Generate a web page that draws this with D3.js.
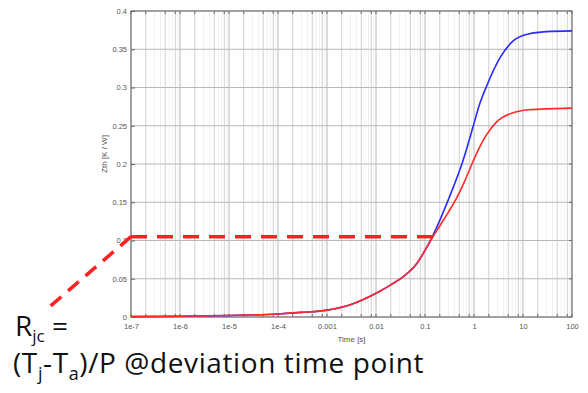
<!DOCTYPE html>
<html>
<head>
<meta charset="utf-8">
<script src="https://cdn.jsdelivr.net/npm/d3@7.9.0/dist/d3.min.js"></script>
<style>
  html, body { margin: 0; padding: 0; background: #fff; }
  svg { display: block; }
  .tick-label { font-family: "Liberation Sans", Arial, sans-serif; font-size: 7.5px; fill: #555; }
  .note { font-family: "Open Sans", "Noto Sans", sans-serif; fill: #111; }
</style>
</head>
<body>
<svg id="chart" width="588" height="393"></svg>
<script>
// ---------------------------------------------------------
// Data
// ---------------------------------------------------------
const yTicks = [0, 0.05, 0.1, 0.15, 0.2, 0.25, 0.3, 0.35, 0.4];
const xTicks = [1e-7, 1e-6, 1e-5, 1e-4, 1e-3, 1e-2, 1e-1, 1, 10, 100];
const xTickLabels = ["1e-7", "1e-6", "1e-5", "1e-4", "0.001", "0.01", "0.1", "1", "10", "100"];

// red curve: Zth [K/W] vs time [s]
const redTime = [1e-7, 1e-6, 1e-5, 1e-4, 3e-4, 1e-3, 3e-3, 0.01, 0.02, 0.04, 0.07, 0.1, 0.146, 0.2, 0.3, 0.43, 0.6, 0.95, 1.4, 1.84, 2.9, 6.3, 13, 30, 100];
const redZth  = [0.0005, 0.001, 0.002, 0.004, 0.006, 0.009, 0.016, 0.031, 0.042, 0.055, 0.071, 0.087, 0.105, 0.119, 0.137, 0.154, 0.173, 0.203, 0.226, 0.239, 0.255, 0.267, 0.271, 0.272, 0.273];

// blue curve: same as red until it deviates around 0.1 s
const blueTime = [1e-7, 1e-6, 1e-5, 1e-4, 3e-4, 1e-3, 3e-3, 0.01, 0.02, 0.04, 0.07, 0.1, 0.146, 0.32, 0.6, 0.95, 1.3, 1.84, 3.4, 6.3, 13, 30, 100];
const blueZth  = [0.0005, 0.001, 0.002, 0.004, 0.006, 0.009, 0.016, 0.031, 0.042, 0.055, 0.071, 0.087, 0.107, 0.158, 0.205, 0.248, 0.278, 0.303, 0.339, 0.361, 0.370, 0.373, 0.374];

// deviation point
const rjcTime = 0.146;
const rjcValue = 0.105;

// ---------------------------------------------------------
// Chart
// ---------------------------------------------------------
const svg = d3.select("#chart");
const margin = { top: 11, right: 16, bottom: 76, left: 131 };
const width = 588, height = 393;

const x = d3.scaleLog().domain([1e-7, 100]).range([margin.left, width - margin.right]);
const y = d3.scaleLinear().domain([0, 0.4]).range([height - margin.bottom, margin.top]);

// minor values for grid
const minors = [];
for (let e = -7; e < 2; e++) {
  for (let m = 2; m <= 9; m++) minors.push({ v: m * Math.pow(10, e), m });
}
const strong = d => [2, 5, 8].includes(d.m);

const grid = svg.append("g");
grid.selectAll("line.minor")
  .data(minors)
  .join("line")
  .attr("x1", d => x(d.v)).attr("x2", d => x(d.v))
  .attr("y1", y(0)).attr("y2", y(0.4))
  .attr("stroke", d => strong(d) ? "#d0d0d0" : "#f0f0f0")
  .attr("stroke-width", 1);

grid.selectAll("line.major")
  .data(xTicks)
  .join("line")
  .attr("x1", d => x(d)).attr("x2", d => x(d))
  .attr("y1", y(0)).attr("y2", y(0.4))
  .attr("stroke", "#b8b8b8");

grid.selectAll("line.h")
  .data(yTicks)
  .join("line")
  .attr("x1", x(1e-7)).attr("x2", x(100))
  .attr("y1", d => y(d)).attr("y2", d => y(d))
  .attr("stroke", "#b8b8b8");

// small tick marks along top and bottom edges
const edgeTicks = minors.filter(strong).map(d => d.v).concat(xTicks);
svg.append("g").selectAll("line")
  .data(edgeTicks)
  .join("line")
  .attr("x1", d => x(d)).attr("x2", d => x(d))
  .attr("y1", y(0)).attr("y2", y(0) - 3)
  .attr("stroke", "#666");
svg.append("g").selectAll("line")
  .data(edgeTicks)
  .join("line")
  .attr("x1", d => x(d)).attr("x2", d => x(d))
  .attr("y1", y(0.4)).attr("y2", y(0.4) + 3)
  .attr("stroke", "#666");
// right side ticks
svg.append("g").selectAll("line")
  .data(yTicks)
  .join("line")
  .attr("x1", x(100)).attr("x2", x(100) - 3)
  .attr("y1", d => y(d)).attr("y2", d => y(d))
  .attr("stroke", "#666");

// frame
svg.append("rect")
  .attr("x", x(1e-7)).attr("y", y(0.4))
  .attr("width", x(100) - x(1e-7))
  .attr("height", y(0) - y(0.4))
  .attr("fill", "none")
  .attr("stroke", "#7a7a7a")
  .attr("stroke-width", 1.2);

// axes
const yAxis = svg.append("g")
  .attr("transform", `translate(${margin.left},0)`)
  .call(d3.axisLeft(y).tickValues(yTicks).tickSize(4).tickFormat(d => d3.format("~g")(d)));
yAxis.select(".domain").remove();
yAxis.selectAll(".tick line").attr("stroke", "#666").attr("x2", 4).attr("x1", 0);
yAxis.selectAll(".tick text").attr("class", "tick-label").attr("x", -4);

const xAxis = svg.append("g")
  .attr("transform", `translate(0,${height - margin.bottom})`)
  .call(d3.axisBottom(x).tickValues(xTicks).tickSize(0).tickFormat((d, i) => xTickLabels[i]));
xAxis.select(".domain").remove();
xAxis.selectAll(".tick text").attr("class", "tick-label").attr("dy", "0.71em").attr("y", 7);

svg.append("text")
  .attr("class", "tick-label")
  .style("font-size", "8px")
  .attr("x", (x(1e-7) + x(100)) / 2)
  .attr("y", height - margin.bottom + 25)
  .attr("text-anchor", "middle")
  .text("Time [s]");

svg.append("text")
  .attr("class", "tick-label")
  .style("font-size", "8px")
  .attr("transform", `translate(${margin.left - 24},${y(0.2) - 10}) rotate(-90)`)
  .attr("text-anchor", "middle")
  .text("Zth [K / W]");

// curves
const line = d3.line()
  .x(d => x(d[0]))
  .y(d => y(d[1]))
  .curve(d3.curveMonotoneX);

svg.append("path")
  .datum(blueTime.map((t, i) => [t, blueZth[i]]))
  .attr("d", line)
  .attr("fill", "none")
  .attr("stroke", "#2a2aff")
  .attr("stroke-width", 1.6);

svg.append("path")
  .datum(redTime.map((t, i) => [t, redZth[i]]))
  .attr("d", line)
  .attr("fill", "none")
  .attr("stroke", "#ff2a2a")
  .attr("stroke-width", 1.6);

// dashed annotation
svg.append("line")
  .attr("x1", x(1e-7)).attr("x2", x(rjcTime))
  .attr("y1", y(rjcValue)).attr("y2", y(rjcValue))
  .attr("stroke", "#ff2020")
  .attr("stroke-width", 3.5)
  .attr("stroke-dasharray", "16 10");

svg.append("line")
  .attr("x1", x(1e-7)).attr("y1", y(rjcValue))
  .attr("x2", 47).attr("y2", 309)
  .attr("stroke", "#ff2020")
  .attr("stroke-width", 3.5)
  .attr("stroke-dasharray", "14 9");

// note text
const n1 = svg.append("text").attr("class", "note").attr("x", 15).attr("y", 336).style("font-size", "28px");
n1.append("tspan").text("R");
n1.append("tspan").attr("dy", 6).style("font-size", "17px").text("jc");
n1.append("tspan").attr("dy", -6).text(" =");

const n2 = svg.append("text").attr("class", "note").attr("x", 13).attr("y", 373).style("font-size", "28px").style("letter-spacing", "0.6px");
n2.append("tspan").text("(T");
n2.append("tspan").attr("dy", 7).style("font-size", "18px").text("j");
n2.append("tspan").attr("dy", -7).text("-T");
n2.append("tspan").attr("dy", 7).style("font-size", "18px").text("a");
n2.append("tspan").attr("dy", -7).text(")/P @deviation time point");
</script>
</body>
</html>
